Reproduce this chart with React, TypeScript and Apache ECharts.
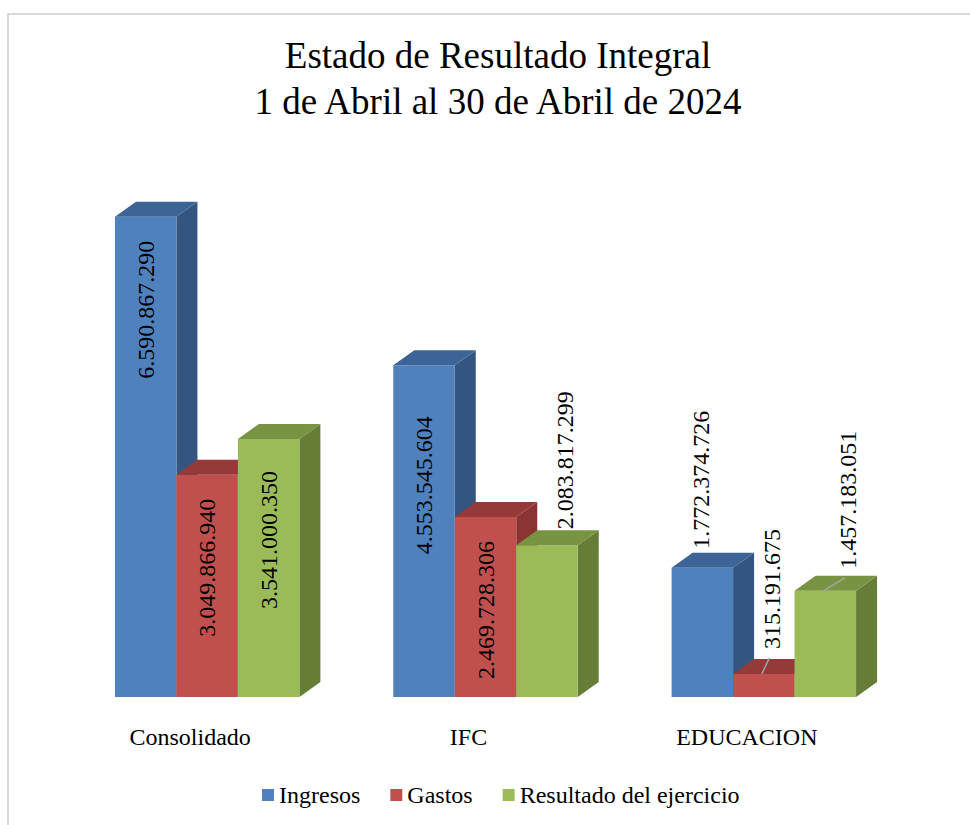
import React, { useEffect, useRef } from "react";
import * as echarts from "echarts";

// ---- Data ----
const categories = ["Consolidado", "IFC", "EDUCACION"];
const seriesNames = ["Ingresos", "Gastos", "Resultado del ejercicio"];
const ingresos = [6590867290, 4553545604, 1772374726];
const gastos = [3049866940, 2469728306, 315191675];
const resultado = [3541000350, 2083817299, 1457183051];
const titleLines = ["Estado de Resultado Integral", "1 de Abril al 30 de Abril de 2024"];

// ---- Styling / layout ----
const FONT = "'Liberation Serif', 'Times New Roman', serif";
const faces = [
  { front: "#4F81BD", top: "#3D6496", side: "#34557F" },
  { front: "#C0504D", top: "#953A38", side: "#8A3533" },
  { front: "#9BBB59", top: "#789442", side: "#667D37" },
];
const BAR_FRAC = 0.2209; // bar width as fraction of category band
const DX = 21; // 3D depth x
const DY = 15; // 3D depth y
const LABEL_SIZE = 24;
// small manual label nudges (px) reproducing the original label placement
const labelShift = [
  [[0, 0], [0, 27], [-12, 0]],
  [[0, 0], [0, 0], [-2, -6]],
  [[0, 8], [8, 3], [12, -3]],
];
const leaderLines = [
  [false, false, false],
  [false, false, true],
  [false, false, true],
];

const fmt = (v: number) =>
  Math.round(v).toString().replace(/\B(?=(\d{3})+(?!\d))/g, ".");

const textLen = (s: string) => {
  let w = 0;
  for (const c of s) w += c === "." ? 0.25 : 0.5;
  return w * LABEL_SIZE;
};

const makeRender = (si: number) => (params: any, api: any) => {
  const ci = api.value(0);
  const v = api.value(1);
  const base = api.coord([ci, 0]);
  const top = api.coord([ci, v]);
  const band = api.size([1, 0])[0];
  const bw = band * BAR_FRAC;
  const x0 = base[0] - 1.5 * bw + si * bw;
  const x1 = x0 + bw;
  const yT = top[1];
  const yB = base[1];
  const f = faces[si];
  const children: any[] = [
    {
      type: "polygon",
      shape: { points: [[x1, yT], [x1 + DX, yT - DY], [x1 + DX, yB - DY], [x1, yB]] },
      style: { fill: f.side },
    },
    {
      type: "rect",
      shape: { x: x0, y: yT, width: bw, height: yB - yT },
      style: { fill: f.front },
    },
    {
      type: "polygon",
      shape: { points: [[x0, yT], [x0 + DX, yT - DY], [x1 + DX, yT - DY], [x1, yT]] },
      style: { fill: f.top },
    },
  ];
  const text = fmt(v);
  const tl = textLen(text);
  const inside = yB - yT >= tl + 35;
  const [sx, sy] = labelShift[si][ci];
  let ax: number, ay: number;
  if (inside) {
    ax = x0 + bw / 2 + sx;
    ay = yT + 24 + sy;
  } else {
    ax = x0 + bw / 2 + DX / 2 + sx;
    ay = yT - DY - 4 + sy;
  }
  children.push({
    type: "text",
    x: ax,
    y: ay,
    rotation: Math.PI / 2,
    z2: 100,
    style: {
      text,
      fill: "#000",
      font: `${LABEL_SIZE}px ${FONT}`,
      align: inside ? "right" : "left",
      verticalAlign: "middle",
    },
  });
  if (leaderLines[si][ci]) {
    children.push({
      type: "line",
      z2: 90,
      shape: { x1: x0 + bw / 2 - 2, y1: yT, x2: ax - 3, y2: ay + 9 },
      style: { stroke: "#A6A6A6", lineWidth: 1.5 },
    });
  }
  return { type: "group", children };
};

export default function App() {
  const ref = useRef<HTMLDivElement>(null);
  useEffect(() => {
    if (!ref.current) return;
    const chart = echarts.init(ref.current, undefined, { renderer: "svg" });
    const seriesData = [ingresos, gastos, resultado];
    chart.setOption({
      animation: false,
      backgroundColor: "#fff",
      grid: { left: 68, right: 67, top: 187, bottom: 128 },
      xAxis: {
        type: "category",
        data: categories,
        axisLine: { show: false },
        axisTick: { show: false },
        splitLine: { show: false },
        axisLabel: {
          fontFamily: FONT,
          fontSize: 24,
          color: "#000",
          margin: 28,
          padding: [0, 34, 0, 0],
        },
      },
      yAxis: { type: "value", min: 0, max: 7000000000, show: false, splitLine: { show: false } },
      legend: {
        data: seriesNames,
        icon: "rect",
        itemWidth: 12,
        itemHeight: 12,
        itemGap: 30,
        left: 262,
        top: 783,
        padding: 0,
        textStyle: { fontFamily: FONT, fontSize: 24, color: "#000", lineHeight: 24 },
      },
      graphic: [
        {
          type: "rect",
          z: -10,
          shape: { x: 8, y: 14, width: 1000, height: 1000 },
          style: { fill: "none", stroke: "#D9D9D9", lineWidth: 2 },
        },
        {
          type: "text",
          x: 498,
          y: 55,
          style: { text: titleLines[0], font: `37px ${FONT}`, fill: "#000", align: "center", verticalAlign: "middle" },
        },
        {
          type: "text",
          x: 498,
          y: 101,
          style: { text: titleLines[1], font: `37px ${FONT}`, fill: "#000", align: "center", verticalAlign: "middle" },
        },
      ],
      series: seriesData.map((arr, si) => ({
        type: "custom",
        name: seriesNames[si],
        itemStyle: { color: faces[si].front },
        clip: false,
        encode: { x: 0, y: 1 },
        data: arr.map((v, i) => [i, v]),
        renderItem: makeRender(si),
      })),
    });
    return () => chart.dispose();
  }, []);
  return (
    <div
      ref={ref}
      style={{ position: "fixed", left: 0, top: 0, width: 970, height: 825 }}
    />
  );
}
